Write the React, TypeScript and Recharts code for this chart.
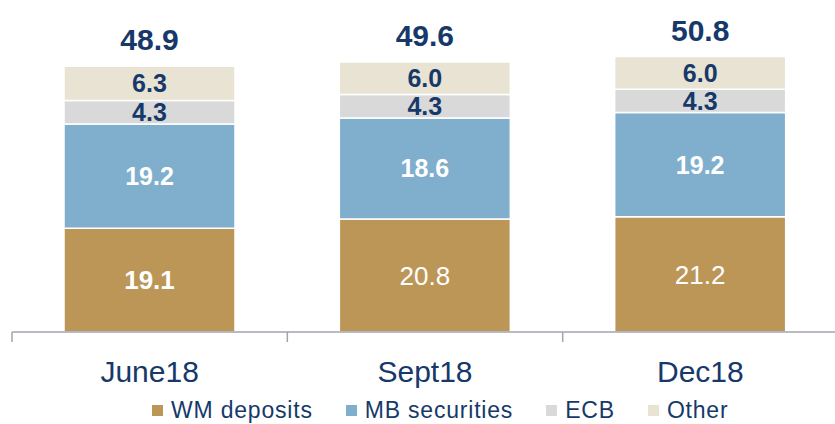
import { BarChart, Bar, XAxis, YAxis, LabelList, Legend } from "recharts";

const categories = ["June18", "Sept18", "Dec18"];
const wmDeposits = [19.1, 20.8, 21.2];
const mbSecurities = [19.2, 18.6, 19.2];
const ecb = [4.3, 4.3, 4.3];
const other = [6.3, 6.0, 6.0];
const totals = [48.9, 49.6, 50.8];

const seriesNames = ["WM deposits", "MB securities", "ECB", "Other"];
const seriesColors = ["#BC9656", "#80AFCD", "#D9D9D9", "#E8E3D2"];

const NAVY = "#16396A";
const AXIS = "#A0A3B1";
const FONT = "'Liberation Sans', Arial, sans-serif";
const W = 838;
const H = 424;
const MARGIN = { top: 6, right: 0, left: 12, bottom: 0 };
const BAND = (W - MARGIN.left - MARGIN.right) / categories.length;

const data = categories.map((name, i) => ({
  name,
  wm: wmDeposits[i],
  mb: mbSecurities[i],
  ecb: ecb[i],
  other: other[i],
  total: totals[i],
}));

// category label plus the boundary tick marks between categories
const CatTick = (props: any) => {
  const { x, y, payload, index } = props;
  const half = BAND / 2;
  return (
    <g>
      <line x1={x - half} x2={x - half} y1={y} y2={y + 10} stroke={AXIS} strokeWidth={1.5} />
      {index === categories.length - 1 && (
        <line x1={x + half} x2={x + half} y1={y} y2={y + 10} stroke={AXIS} strokeWidth={1.5} />
      )}
      <text x={x} y={y + 50} textAnchor="middle" fill={NAVY} fontSize={30} fontFamily={FONT}>
        {payload.value}
      </text>
    </g>
  );
};

const fmt = (v: any) => Number(v).toFixed(1);

const SegLabel = (color: string, size: number, weightFn?: (i: number) => string) => (props: any) => {
  const { x, y, width, height, value, index } = props;
  return (
    <text
      x={x + width / 2}
      y={y + height / 2}
      dy="0.36em"
      textAnchor="middle"
      fill={color}
      fontSize={size}
      fontWeight={weightFn ? weightFn(index) : "bold"}
      fontFamily={FONT}
    >
      {fmt(value)}
    </text>
  );
};

const TotalLabel = (props: any) => {
  const { x, y, width, value } = props;
  return (
    <text x={x + width / 2} y={y - 16} textAnchor="middle" fill={NAVY} fontSize={30} fontWeight="bold" fontFamily={FONT}>
      {fmt(value)}
    </text>
  );
};

const LegendContent = () => (
  <div
    style={{
      display: "flex",
      gap: 33,
      paddingLeft: 152,
      fontFamily: FONT,
      fontSize: 23,
      letterSpacing: 0.8,
      color: NAVY,
      lineHeight: "24px",
    }}
  >
    {seriesNames.map((n, i) => (
      <div key={n} style={{ display: "flex", alignItems: "center", whiteSpace: "nowrap" }}>
        <span style={{ display: "inline-block", width: 11, height: 11, background: seriesColors[i], marginRight: 8 }} />
        {n}
      </div>
    ))}
  </div>
);

export default function App() {
  return (
    <div style={{ width: 835, height: H, overflow: "hidden", background: "#fff" }}>
      <style>{"body{margin:0}"}</style>
      <BarChart width={W} height={H} data={data} margin={MARGIN} barSize={171}>
        <YAxis hide domain={[0, 60]} />
        <XAxis
          dataKey="name"
          height={92}
          axisLine={{ stroke: AXIS, strokeWidth: 1.5 }}
          tickLine={false}
          tickSize={0}
          tickMargin={0}
          tick={<CatTick />}
          interval={0}
        />
        <Legend
          verticalAlign="middle"
          align="center"
          content={<LegendContent />}
          wrapperStyle={{ position: "absolute", left: 0, top: 398, width: W }}
        />
        <Bar dataKey="wm" stackId="s" fill={seriesColors[0]} stroke="#fff" strokeWidth={1.5} isAnimationActive={false}>
          <LabelList dataKey="wm" content={SegLabel("#fff", 26, (i) => (i === 0 ? "bold" : "normal"))} />
        </Bar>
        <Bar dataKey="mb" stackId="s" fill={seriesColors[1]} stroke="#fff" strokeWidth={1.5} isAnimationActive={false}>
          <LabelList dataKey="mb" content={SegLabel("#fff", 25)} />
        </Bar>
        <Bar dataKey="ecb" stackId="s" fill={seriesColors[2]} stroke="#fff" strokeWidth={1.5} isAnimationActive={false}>
          <LabelList dataKey="ecb" content={SegLabel(NAVY, 25)} />
        </Bar>
        <Bar dataKey="other" stackId="s" fill={seriesColors[3]} stroke="#fff" strokeWidth={1.5} isAnimationActive={false}>
          <LabelList dataKey="other" content={SegLabel(NAVY, 25)} />
          <LabelList dataKey="total" content={TotalLabel} />
        </Bar>
      </BarChart>
    </div>
  );
}
